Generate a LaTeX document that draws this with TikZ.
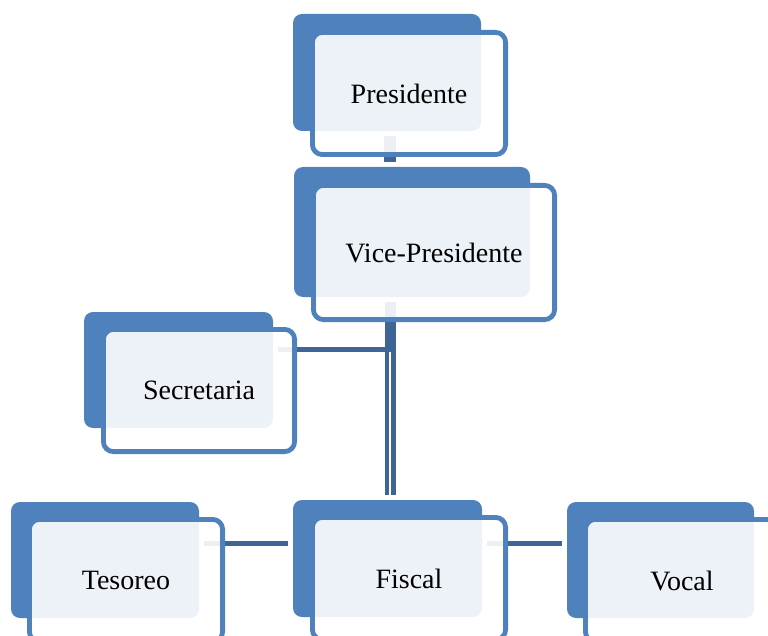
\documentclass[tikz,border=0pt]{standalone}
\usepackage{fontspec}
\setmainfont{Liberation Serif}
\usetikzlibrary{calc}
\definecolor{accent}{RGB}{79,129,189}
\definecolor{wire}{RGB}{63,100,150}
\pgfdeclarelayer{wires}
\pgfdeclarelayer{under}
\pgfsetlayers{wires,under,main}
\tikzset{
  backbox/.style={fill=accent, draw=none, inner sep=0pt, rounded corners=9pt},
  frontbox/.style={draw=accent, line width=4.8pt, fill=white, fill opacity=0.9,
    text opacity=1, text=black, inner sep=0pt, rounded corners=10pt,
    font=\fontsize{28}{32}\selectfont},
  wireline/.style={draw=wire, line width=5.3pt, shorten <=5pt, shorten >=5pt}
}
\begin{document}
\begin{tikzpicture}[x=1pt,y=-1pt]
\useasboundingbox (0,0) rectangle (768,636);
\clip (0,0) rectangle (768,636);

% back plates
\begin{pgfonlayer}{under}
\node[backbox, minimum width=188pt, minimum height=117pt] (pres-b) at (387,72.5) {};
\node[backbox, minimum width=236pt, minimum height=130pt] (vice-b) at (412,232) {};
\node[backbox, minimum width=189pt, minimum height=116pt] (secr-b) at (178.5,370) {};
\node[backbox, minimum width=188pt, minimum height=116pt] (tes-b) at (105,560) {};
\node[backbox, minimum width=189pt, minimum height=117pt] (fis-b) at (387.5,558.5) {};
\node[backbox, minimum width=187pt, minimum height=116pt] (voc-b) at (660.5,560) {};
\end{pgfonlayer}

% front cards with labels
\node[frontbox, minimum width=193.2pt, minimum height=122.2pt] (pres) at (409,93.5) {Presidente};
\node[frontbox, minimum width=241.2pt, minimum height=134.2pt] (vice) at (434,252.5) {Vice-Presidente};
\node[frontbox, minimum width=191.2pt, minimum height=122.2pt] (secr) at (199,390.5) {Secretaria};
\node[frontbox, minimum width=193.2pt, minimum height=122.2pt] (tes) at (126,580.5) {Tesoreo};
\node[frontbox, minimum width=193.2pt, minimum height=122.2pt] (fis) at (409,578.5) {Fiscal};
\node[frontbox, minimum width=193.2pt, minimum height=122.2pt] (voc) at (682,580.5) {Vocal};

% connector guides
\coordinate (spine) at (390,0);
\coordinate (spineL) at (386.9,0);
\coordinate (spineR) at (393.1,0);
\coordinate (asst) at (0,349.5);
\coordinate (row) at (0,543.3);

\begin{pgfonlayer}{wires}
\draw[wireline, line width=11.5pt] (pres-b.south -| spine) -- (vice-b.north -| spine);
\draw[wireline, line width=4.8pt] (vice-b.south -| spineL) -- (fis-b.north -| spineL);
\draw[wireline, line width=4.8pt] (vice-b.south -| spineR) -- (fis-b.north -| spineR);
\draw[wireline] (vice-b.south -| spine) -- (spine |- asst) -- (secr-b.east |- asst);
\draw[wireline] (tes-b.east |- row) -- (fis-b.west |- row);
\draw[wireline] (fis-b.east |- row) -- (voc-b.west |- row);
\end{pgfonlayer}
\end{tikzpicture}
\end{document}
